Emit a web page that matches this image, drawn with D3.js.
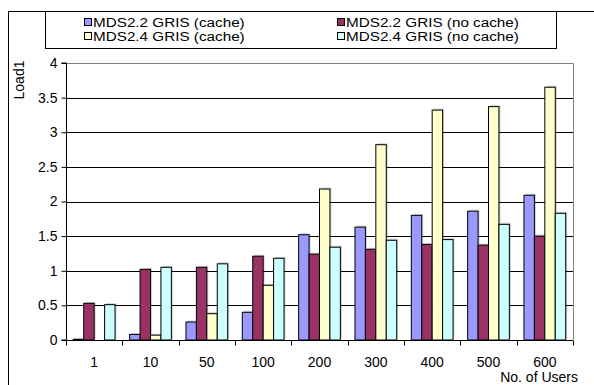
<!DOCTYPE html>
<html>
<head>
<meta charset="utf-8">
<script src="https://cdn.jsdelivr.net/npm/d3@7"></script>
<style>
  html, body { margin: 0; padding: 0; background: #fff; }
  svg { display: block; font-family: "Liberation Sans", Arial, sans-serif; }
</style>
</head>
<body>
<svg id="chart" width="594" height="385"></svg>
<script>
// Load1 by number of concurrent users, for two MDS versions with and without caching
const categories = ["1", "10", "50", "100", "200", "300", "400", "500", "600"];
const seriesNames = ["MDS2.2 GRIS (cache)", "MDS2.2 GRIS (no cache)", "MDS2.4 GRIS (cache)", "MDS2.4 GRIS (no cache)"];
const seriesColors = ["#9999FF", "#993366", "#FFFFCC", "#CCFFFF"];
const mds22Cache   = [0.01, 0.08, 0.26, 0.40, 1.52, 1.63, 1.80, 1.86, 2.09];
const mds22NoCache = [0.53, 1.02, 1.05, 1.21, 1.24, 1.31, 1.38, 1.37, 1.50];
const mds24Cache   = [0.00, 0.07, 0.38, 0.79, 2.18, 2.82, 3.32, 3.37, 3.65];
const mds24NoCache = [0.51, 1.05, 1.10, 1.18, 1.34, 1.44, 1.45, 1.67, 1.83];
const yTicks = [0, 0.5, 1, 1.5, 2, 2.5, 3, 3.5, 4];

const seriesValues = [mds22Cache, mds22NoCache, mds24Cache, mds24NoCache];

const svg = d3.select("#chart");
const plot = { left: 66, right: 573, top: 63, bottom: 340 };

// Outer chart frame (top and left edges visible)
svg.append("path")
  .attr("d", `M8.5,${385} V11.5 H594`)
  .attr("fill", "none").attr("stroke", "#000").attr("stroke-width", 1);

const x0 = d3.scaleBand().domain(categories).range([plot.left, plot.right]).padding(0);
const bw = x0.bandwidth();
const x1 = d3.scaleBand().domain(d3.range(seriesNames.length))
  .range([bw * 0.7 / 5.4, bw * 4.7 / 5.4]).padding(0);
const y = d3.scaleLinear().domain([0, 4]).range([plot.bottom, plot.top]);

// Plot area border (grey top and right)
svg.append("path")
  .attr("d", `M${plot.left},${plot.top + 0.5} H${plot.right + 0.5} V${plot.bottom}`)
  .attr("fill", "none").attr("stroke", "#808080").attr("stroke-width", 1);

// Horizontal gridlines
svg.append("g").selectAll("line").data(yTicks.filter(d => d > 0 && d < 4)).join("line")
  .attr("x1", plot.left).attr("x2", plot.right)
  .attr("y1", d => Math.round(y(d)) + 0.5).attr("y2", d => Math.round(y(d)) + 0.5)
  .attr("stroke", "#000").attr("stroke-width", 1);

// Bars with a soft drop shadow
const groups = svg.append("g").selectAll("g").data(categories).join("g")
  .attr("transform", d => `translate(${x0(d)},0)`);

groups.each(function(cat, ci) {
  const g = d3.select(this);
  seriesValues.forEach((vals, si) => {
    const v = vals[ci];
    if (v <= 0) return;
    const bx = x1(si), by = y(v), bh = y(0) - y(v);
    g.append("rect")
      .attr("x", bx + 1.5).attr("y", by - 1.5)
      .attr("width", x1.bandwidth()).attr("height", bh)
      .attr("fill", "#000").attr("opacity", 0.18);
    g.append("rect")
      .attr("x", bx).attr("y", by)
      .attr("width", x1.bandwidth()).attr("height", bh)
      .attr("fill", seriesColors[si])
      .attr("stroke", "#000").attr("stroke-width", 1);
  });
});

// Y axis
const yAxis = d3.axisLeft(y).tickValues(yTicks).tickSize(5).tickPadding(4)
  .tickFormat(d => String(d));
const yg = svg.append("g").attr("transform", `translate(${plot.left + 0.5},0)`).call(yAxis);
yg.select(".domain").attr("d", `M-5,${y(4)}H0V${y(0)}H-5`).attr("stroke", "#000");
yg.selectAll("text").attr("font-size", 14).attr("fill", "#000")
  .attr("font-family", "Liberation Sans, Arial, sans-serif");
yg.selectAll("line").attr("stroke", "#000");

// X axis with ticks at band boundaries
const xg = svg.append("g").attr("transform", `translate(0,${plot.bottom + 0.5})`);
xg.append("line").attr("x1", plot.left).attr("x2", plot.right)
  .attr("y1", 0).attr("y2", 0).attr("stroke", "#000");
xg.selectAll(".tk").data(categories.concat([null])).join("line")
  .attr("x1", (d, i) => Math.round(plot.left + i * bw) + 0.5)
  .attr("x2", (d, i) => Math.round(plot.left + i * bw) + 0.5)
  .attr("y1", 0).attr("y2", 5).attr("stroke", "#000");
xg.selectAll("text").data(categories).join("text")
  .attr("x", d => x0(d) + bw / 2).attr("y", 26)
  .attr("text-anchor", "middle").attr("font-size", 14).attr("fill", "#000")
  .text(d => d);

// Axis titles
svg.append("text")
  .attr("transform", `translate(24,80) rotate(-90)`)
  .attr("text-anchor", "middle").attr("font-size", 14).attr("fill", "#000")
  .text("Load1");
svg.append("text")
  .attr("x", 578).attr("y", 382).attr("text-anchor", "end")
  .attr("font-size", 14).attr("fill", "#000")
  .text("No. of Users");

// Legend: two columns, two rows, text widened to fill the box
const legend = svg.append("g");
legend.append("rect").attr("x", 45.5).attr("y", 11.5).attr("width", 511).attr("height", 37)
  .attr("fill", "#fff").attr("stroke", "#000");
const legendPos = [[84, 27], [337, 27], [84, 41], [337, 41]];
seriesNames.forEach((name, i) => {
  const [lx, ly] = legendPos[i];
  legend.append("rect").attr("x", lx + 0.5).attr("y", ly - 8.5).attr("width", 7).attr("height", 7)
    .attr("fill", seriesColors[i]).attr("stroke", "#000");
  const t = legend.append("text").attr("x", lx + 9).attr("y", ly)
    .attr("font-size", 12.5).attr("fill", "#000").text(name);
  const natural = t.node().getComputedTextLength();
  t.attr("textLength", natural * 1.22).attr("lengthAdjust", "spacingAndGlyphs");
});
</script>
</body>
</html>
